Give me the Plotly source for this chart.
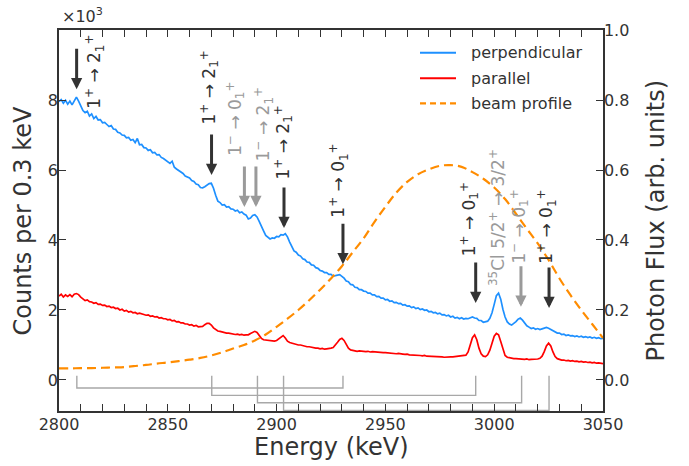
import plotly.graph_objects as go

# ---------------- data ----------------
ENERGY = list(range(2800, 3051))  # keV, 1 keV grid

# counts (x 10^3) per 0.3 keV, perpendicular
PERP = [
    7.95, 8.01, 7.91, 7.99, 7.88, 7.97, 7.86, 7.99, 8.08, 7.97,
    7.84, 7.70, 7.64, 7.68, 7.54, 7.60, 7.47, 7.53, 7.43, 7.44,
    7.35, 7.36, 7.30, 7.24, 7.27, 7.17, 7.16, 7.08, 7.06, 7.00,
    6.99, 6.92, 6.93, 6.85, 6.87, 6.78, 6.90, 6.72, 6.73, 6.64,
    6.63, 6.56, 6.58, 6.49, 6.50, 6.43, 6.44, 6.36, 6.33, 6.29,
    6.24, 6.19, 6.25, 6.08, 6.03, 5.99, 5.93, 5.90, 5.83, 5.80,
    5.77, 5.70, 5.67, 5.60, 5.58, 5.50, 5.49, 5.52, 5.57, 5.61,
    5.62, 5.48, 5.28, 5.11, 5.07, 5.00, 5.01, 4.94, 4.95, 4.89,
    4.88, 4.83, 4.85, 4.78, 4.80, 4.74, 4.71, 4.60, 4.63, 4.70,
    4.72, 4.66, 4.53, 4.37, 4.26, 4.13, 4.08, 4.03, 4.06, 4.05,
    4.10, 4.09, 4.15, 4.14, 4.18, 4.09, 3.94, 3.81, 3.69, 3.65,
    3.57, 3.54, 3.46, 3.44, 3.37, 3.36, 3.29, 3.28, 3.21, 3.19,
    3.13, 3.11, 3.07, 3.07, 3.02, 3.02, 2.97, 2.98, 2.99, 3.01,
    2.96, 2.91, 2.83, 2.81, 2.73, 2.72, 2.65, 2.64, 2.58, 2.58,
    2.54, 2.53, 2.48, 2.48, 2.43, 2.43, 2.38, 2.39, 2.34, 2.34,
    2.29, 2.30, 2.25, 2.26, 2.21, 2.22, 2.18, 2.19, 2.14, 2.15,
    2.11, 2.12, 2.07, 2.09, 2.04, 2.06, 2.01, 2.03, 1.99, 2.00,
    1.95, 1.96, 1.92, 1.93, 1.89, 1.91, 1.86, 1.87, 1.83, 1.85,
    1.80, 1.82, 1.77, 1.79, 1.75, 1.78, 1.74, 1.76, 1.75, 1.78,
    1.80, 1.77, 1.76, 1.70, 1.70, 1.65, 1.67, 1.68, 1.76, 1.92,
    2.16, 2.41, 2.48, 2.31, 2.02, 1.80, 1.66, 1.60, 1.57, 1.61,
    1.67, 1.74, 1.77, 1.71, 1.62, 1.55, 1.51, 1.47, 1.49, 1.45,
    1.47, 1.44, 1.46, 1.47, 1.50, 1.48, 1.45, 1.40, 1.38, 1.34,
    1.34, 1.30, 1.31, 1.27, 1.29, 1.26, 1.27, 1.24, 1.26, 1.23,
    1.25, 1.22, 1.24, 1.21, 1.23, 1.20, 1.22, 1.19, 1.21, 1.18,
    1.19,
]

# counts (x 10^3) per 0.3 keV, parallel
PARA = [
    2.40, 2.45, 2.37, 2.43, 2.39, 2.44, 2.38, 2.45, 2.47, 2.44,
    2.37, 2.33, 2.27, 2.29, 2.24, 2.23, 2.19, 2.21, 2.16, 2.17,
    2.13, 2.14, 2.10, 2.11, 2.07, 2.08, 2.04, 2.05, 2.00, 2.02,
    1.97, 1.99, 1.94, 1.96, 1.92, 1.93, 1.89, 1.91, 1.88, 1.87,
    1.85, 1.86, 1.82, 1.83, 1.80, 1.81, 1.77, 1.78, 1.75, 1.75,
    1.72, 1.73, 1.69, 1.70, 1.66, 1.67, 1.63, 1.63, 1.60, 1.60,
    1.57, 1.58, 1.54, 1.56, 1.52, 1.53, 1.53, 1.58, 1.62, 1.62,
    1.57, 1.49, 1.44, 1.40, 1.39, 1.37, 1.36, 1.34, 1.34, 1.32,
    1.32, 1.30, 1.31, 1.29, 1.30, 1.28, 1.29, 1.29, 1.33, 1.37,
    1.39, 1.36, 1.27, 1.19, 1.15, 1.14, 1.12, 1.12, 1.10, 1.11,
    1.13, 1.18, 1.24, 1.27, 1.20, 1.11, 1.07, 1.05, 1.03, 1.02,
    1.00, 1.00, 0.98, 0.97, 0.95, 0.95, 0.93, 0.93, 0.91, 0.91,
    0.89, 0.90, 0.88, 0.89, 0.89, 0.91, 0.93, 0.99, 1.08, 1.16,
    1.19, 1.13, 1.01, 0.91, 0.86, 0.84, 0.84, 0.82, 0.83, 0.82,
    0.82, 0.81, 0.82, 0.80, 0.81, 0.80, 0.80, 0.79, 0.79, 0.78,
    0.78, 0.77, 0.78, 0.76, 0.76, 0.75, 0.76, 0.74, 0.74, 0.73,
    0.74, 0.72, 0.72, 0.71, 0.72, 0.70, 0.70, 0.69, 0.70, 0.68,
    0.68, 0.67, 0.68, 0.66, 0.67, 0.66, 0.66, 0.65, 0.66, 0.65,
    0.66, 0.66, 0.67, 0.67, 0.68, 0.68, 0.69, 0.71, 0.80, 1.00,
    1.21, 1.29, 1.15, 0.91, 0.75, 0.68, 0.67, 0.72, 0.85, 1.05,
    1.25, 1.33, 1.29, 1.10, 0.86, 0.70, 0.65, 0.63, 0.62, 0.61,
    0.61, 0.60, 0.60, 0.59, 0.59, 0.60, 0.58, 0.59, 0.59, 0.58,
    0.60, 0.62, 0.68, 0.81, 0.97, 1.05, 0.97, 0.80, 0.67, 0.61,
    0.58, 0.57, 0.57, 0.55, 0.56, 0.54, 0.55, 0.53, 0.54, 0.52,
    0.53, 0.51, 0.52, 0.50, 0.51, 0.49, 0.50, 0.48, 0.49, 0.47,
    0.47,
]

BEAM_E = list(range(2800, 3051, 5))
BEAM = [
    0.033, 0.033, 0.034, 0.034, 0.035, 0.036, 0.037, 0.040, 0.043, 0.047,
    0.050, 0.054, 0.058, 0.063, 0.070, 0.079, 0.090, 0.100, 0.113, 0.130,
    0.152, 0.175, 0.200, 0.228, 0.258, 0.290, 0.325, 0.365, 0.405, 0.452,
    0.495, 0.535, 0.566, 0.588, 0.602, 0.612, 0.614, 0.609, 0.594, 0.575,
    0.550, 0.517, 0.475, 0.432, 0.390, 0.343, 0.290, 0.243, 0.200, 0.160,
    0.120,
]

X_TICKS = [2800, 2850, 2900, 2950, 3000, 3050]
Y_TICKS = [0, 2, 4, 6, 8]
Y2_TICKS = [0.0, 0.2, 0.4, 0.6, 0.8, 1.0]

LABEL_TEXT = [
    "1<sup>+</sup> → 2<sub>1</sub><sup>+</sup>",
    "1<sup>+</sup> → 2<sub>1</sub><sup>+</sup>",
    "1<sup>−</sup> → 0<sub>1</sub><sup>+</sup>",
    "1<sup>−</sup> → 2<sub>1</sub><sup>+</sup>",
    "1<sup>+</sup> → 2<sub>1</sub><sup>+</sup>",
    "1<sup>+</sup> → 0<sub>1</sub><sup>+</sup>",
    "1<sup>+</sup> → 0<sub>1</sub><sup>+</sup>",
    "<sup>35</sup>Cl 5/2<sup>+</sup> → 3/2<sup>+</sup>",
    "1<sup>−</sup> → 0<sub>1</sub><sup>+</sup>",
    "1<sup>+</sup> → 0<sub>1</sub><sup>+</sup>",
]
LABEL_E = [2816.0, 2869.0, 2881.0, 2893.8, 2903.0, 2928.6, 2988.4, 3001.0, 3011.2, 3024.0]
LABEL_Y = [8.80, 8.36, 7.47, 7.31, 6.79, 5.69, 4.59, 4.64, 4.37, 4.39]
LABEL_GRAY = [False, False, True, True, False, False, False, True, True, False]

ARROW_E = [2808.1, 2870.1, 2885.2, 2890.5, 2903.4, 2930.5, 2991.5, 3012.3, 3025.2]
ARROW_TIP = [8.31, 5.86, 4.94, 4.94, 4.34, 3.31, 2.20, 2.09, 2.06]
ARROW_GRAY = [False, False, True, True, False, False, False, True, False]

BRACKET_LO = [2808.2, 2870.2, 2891.2, 2903.2]
BRACKET_HI = [2930.5, 2991.5, 3012.6, 3025.2]
BRACKET_LEVEL = [-0.23, -0.44, -0.65, -0.87]
BRACKET_TOP = 0.12

# ---------------- style ----------------
W, H = 689, 466
L, R, T, B = 59, 86, 30, 55
FONT = "DejaVu Sans"
DARK = "#333333"
GRAY = "#9a9a9a"
BLUE = "#1e90ff"
RED = "#ff0000"
ORANGE = "#ff8c00"
PW, PH = W - L - R, H - T - B


def px2paper(px, py):
    return (px - L) / PW, (H - B - py) / PH


fig = go.Figure()

fig.add_trace(go.Scatter(x=ENERGY, y=PERP, mode="lines",
                         line=dict(color=BLUE, width=1.7), showlegend=False))
fig.add_trace(go.Scatter(x=ENERGY, y=PARA, mode="lines",
                         line=dict(color=RED, width=1.7), showlegend=False))

# brackets
for lo, hi, lev in zip(BRACKET_LO, BRACKET_HI, BRACKET_LEVEL):
    fig.add_trace(go.Scatter(x=[lo, lo, hi, hi], y=[BRACKET_TOP, lev, lev, BRACKET_TOP],
                             mode="lines", line=dict(color="#a8a8a8", width=1.4),
                             showlegend=False, hoverinfo="skip"))

fig.add_trace(go.Scatter(x=BEAM_E, y=BEAM, mode="lines", yaxis="y2",
                         line=dict(color=ORANGE, width=2.2, dash="9px,5px", shape="spline"),
                         showlegend=False))

annotations = []
for e, tip, g in zip(ARROW_E, ARROW_TIP, ARROW_GRAY):
    c = GRAY if g else DARK
    annotations.append(dict(x=e, y=tip, xref="x", yref="y", text="", showarrow=True,
                            ax=0, ay=-42, arrowhead=2, arrowsize=0.75, arrowwidth=3,
                            arrowcolor=c, standoff=0, startstandoff=0))
for t, e, yv, g in zip(LABEL_TEXT, LABEL_E, LABEL_Y, LABEL_GRAY):
    c = GRAY if g else DARK
    annotations.append(dict(x=e, y=yv, xref="x", yref="y", text=t, showarrow=False,
                            textangle=-90, xanchor="center", yanchor="middle",
                            font=dict(family=FONT, size=17, color=c)))

# axis titles
annotations.append(dict(x=0.5, y=px2paper(0, 447)[1], xref="paper", yref="paper",
                        text="Energy (keV)", showarrow=False, xanchor="center", yanchor="middle",
                        font=dict(family=FONT, size=24, color=DARK)))
annotations.append(dict(x=px2paper(22, 0)[0], y=0.5, xref="paper", yref="paper",
                        text="Counts per 0.3 keV", showarrow=False, textangle=-90,
                        xanchor="center", yanchor="middle",
                        font=dict(family=FONT, size=24, color=DARK)))
annotations.append(dict(x=px2paper(655, 0)[0], y=0.5, xref="paper", yref="paper",
                        text="Photon Flux (arb. units)", showarrow=False, textangle=-90,
                        xanchor="center", yanchor="middle",
                        font=dict(family=FONT, size=24, color=DARK)))
annotations.append(dict(x=px2paper(60, 0)[0], y=px2paper(0, 16)[1], xref="paper", yref="paper",
                        text="×10<sup>3</sup>", showarrow=False, xanchor="left", yanchor="middle",
                        font=dict(family=FONT, size=16, color=DARK)))

# manual legend
shapes = []
LEG = [("perpendicular", BLUE, "solid", 52.7), ("parallel", RED, "solid", 78.3),
       ("beam profile", ORANGE, "6px,4px", 103.3)]
for name, col, dash, py in LEG:
    x0, y0 = px2paper(420, py)
    x1, _ = px2paper(456, py)
    shapes.append(dict(type="line", xref="paper", yref="paper", x0=x0, x1=x1, y0=y0, y1=y0,
                       line=dict(color=col, width=2 if dash == "solid" else 2.2, dash=dash)))
    tx, _ = px2paper(469, py)
    annotations.append(dict(x=tx, y=y0, xref="paper", yref="paper", text=name, showarrow=False,
                            xanchor="left", yanchor="middle",
                            font=dict(family=FONT, size=16, color=DARK)))

axis_common = dict(showline=True, linecolor=DARK, linewidth=1.5, ticks="inside",
                   ticklen=7, tickwidth=1.2, tickcolor=DARK, showgrid=False, zeroline=False,
                   tickfont=dict(family=FONT, size=16, color=DARK))

fig.update_layout(
    width=W, height=H, autosize=False,
    margin=dict(l=L, r=R, t=T, b=B, pad=0),
    plot_bgcolor="white", paper_bgcolor="white",
    template="none",
    showlegend=False,
    font=dict(family=FONT, color=DARK),
    xaxis=dict(range=[2800, 3050], tickvals=X_TICKS, mirror="allticks", ticklabelstandoff=-2,
               minor=dict(dtick=10, ticks="inside", ticklen=4, tickwidth=1.0, tickcolor=DARK),
               **axis_common),
    yaxis=dict(range=[-0.886, 10.0], tickvals=Y_TICKS, mirror=False, ticklabelstandoff=-4,
               **axis_common),
    yaxis2=dict(range=[-0.0886, 1.0], tickvals=Y2_TICKS, tickformat=".1f", overlaying="y",
                side="right", ticklabelstandoff=-4, **axis_common),
    annotations=annotations,
    shapes=shapes,
)

fig.write_html("out.html", config={"displayModeBar": False},
               post_script="document.body.style.margin='0';document.body.style.padding='0';")
